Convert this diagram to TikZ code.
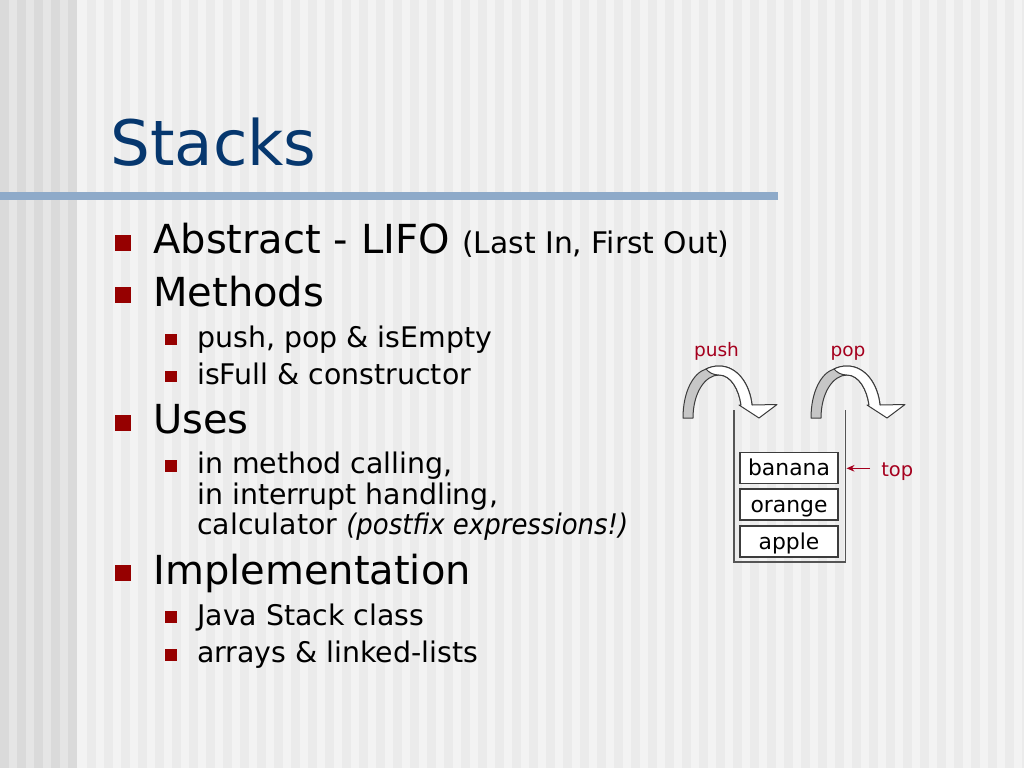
\documentclass[tikz,border=0pt]{standalone}
\usepackage{fontspec}
\setmainfont{DejaVu Sans}
\usetikzlibrary{arrows.meta}
\definecolor{titleblue}{RGB}{6,55,110}
\definecolor{bulletred}{RGB}{150,0,0}
\definecolor{labelred}{RGB}{165,0,30}
\definecolor{barblue}{RGB}{142,170,201}
\definecolor{bgleft}{RGB}{229,229,229}
\definecolor{bgleftstripe}{RGB}{218,218,218}
\definecolor{bgright}{RGB}{243,243,243}
\definecolor{bgrightstripe}{RGB}{235,235,235}
\definecolor{boxgray}{RGB}{60,60,60}
\definecolor{wallgray}{RGB}{85,85,85}
\definecolor{arrowfill}{RGB}{198,198,198}
\begin{document}
\begin{tikzpicture}[x=0.75pt,y=-0.75pt,
  txt/.style={anchor=base west, inner sep=0pt, text=black},
  lone/.style={txt, font=\fontsize{30}{36}\selectfont},
  ltwo/.style={txt, font=\fontsize{21.3}{25}\selectfont},
  bone/.style={fill=bulletred, minimum size=12pt, inner sep=0pt},
  btwo/.style={fill=bulletred, minimum size=8.6pt, inner sep=0pt},
  stackitem/.style={draw=boxgray, line width=0.9pt, fill=white, minimum width=73.5pt,
    minimum height=23.25pt, inner sep=0pt, text height=13pt, text depth=1.75pt,
    font=\fontsize{16.4}{18}\selectfont},
  lab/.style={text=labelred, inner sep=0pt, font=\fontsize{13.9}{16}\selectfont, anchor=base},
  wall/.style={draw=wallgray, line width=1.1pt},
  curvegray/.style={fill=arrowfill, draw=boxgray, line width=0.75pt, line join=round},
  curvewhite/.style={fill=white, draw=boxgray, line width=0.75pt, line join=round},
  toparrow/.style={draw=labelred, line width=0.9pt, -{Stealth[length=6pt,width=5pt]}}
]
\useasboundingbox (0,0) rectangle (1024,768);
% background
\fill[bgright] (0,0) rectangle (1024,768);
\foreach \i in {0,...,55} \fill[bgrightstripe] ({87+17*\i},0) rectangle ++(8.5,768);
\fill[bgleft] (0,0) rectangle (77,768);
\foreach \i in {0,...,4} \fill[bgleftstripe] ({17*\i},0) rectangle ++(8.5,768);
% title and bar
\node[anchor=base west, inner sep=0pt, text=titleblue, font=\fontsize{47}{50}\selectfont] (title) at (110,165) {Stacks};
\fill[barblue] (0,192) rectangle (778,200);
% bullets
\node[bone] (b1) at (123,243) {};
\node[lone] (t1) at (153,253.5) {Abstract - LIFO {\fontsize{22.3}{25}\selectfont(Last In, First Out)}};
\node[bone] (b2) at (123,295) {};
\node[lone] (t2) at (153,306) {Methods};
\node[btwo] (b21) at (171,339.5) {};
\node[ltwo] (t21) at (197,347.5) {push, pop \& isEmpty};
\node[btwo] (b22) at (171,376.5) {};
\node[ltwo] (t22) at (197,384.5) {isFull \& constructor};
\node[bone] (b3) at (123,423) {};
\node[lone] (t3) at (153,433) {Uses};
\node[btwo] (b31) at (171,466) {};
\node[ltwo] (t31a) at (197,473.5) {in method calling,};
\node[ltwo] (t31b) at (197,504) {in interrupt handling,};
\node[ltwo] (t31c) at (197,534.5) {calculator \scalebox{0.915}[1]{\textit{(postfix expressions!)}}};
\node[bone] (b4) at (123,573) {};
\node[lone] (t4) at (153,584) {Implementation};
\node[btwo] (b41) at (171,617) {};
\node[ltwo] (t41) at (197,625) {Java Stack class};
\node[btwo] (b42) at (171,655) {};
\node[ltwo] (t42) at (197,662) {arrays \& linked-lists};
% curved arrows
\foreach \s in {0,128} {
\begin{scope}[shift={(\s,0)}]
\filldraw[curvegray] (683,418) .. controls (683,392) and (693,373) .. (706,369)
  .. controls (710,367) and (714,366) .. (719,366)
  .. controls (738,366) and (750,385) .. (752,405) -- (741,405)
  .. controls (739,390) and (731,375) .. (719,375)
  .. controls (705,375) and (693,393) .. (693,418) -- cycle;
\filldraw[curvewhite] (706,369) .. controls (710,367) and (714,366) .. (719,366)
  .. controls (738,366) and (750,385) .. (752,405) -- (777,404.5) -- (759,418)
  -- (739,405) -- (741,405)
  .. controls (739,390) and (731,375) .. (719,375)
  .. controls (713,375) and (709,372.5) .. (706,369) -- cycle;
\end{scope}
}
\node[lab] (push) at (716.5,356.5) {push};
\node[lab] (pop) at (848,356.5) {pop};
% stack container
\coordinate (ctl) at (734,410);
\coordinate (cbl) at (734,562);
\coordinate (cbr) at (845.5,562);
\coordinate (ctr) at (845.5,410);
\draw[wall] (ctl) -- (cbl) -- (cbr) -- (ctr);
% items
\node[stackitem] (banana) at (789,468) {banana};
\node[stackitem] (orange) at (789,504.5) {orange};
\node[stackitem] (apple) at (789,541.5) {apple};
% top label
\node[anchor=base west, inner sep=0pt, text=labelred, font=\fontsize{14.6}{16}\selectfont] (top) at (881,476.5) {top};
\coordinate (wallR) at (846.5,468.3);
\coordinate (ta) at ([xshift=-8.25pt]top.west);
\draw[toparrow] (ta |- wallR) -- (wallR);
\end{tikzpicture}
\end{document}
